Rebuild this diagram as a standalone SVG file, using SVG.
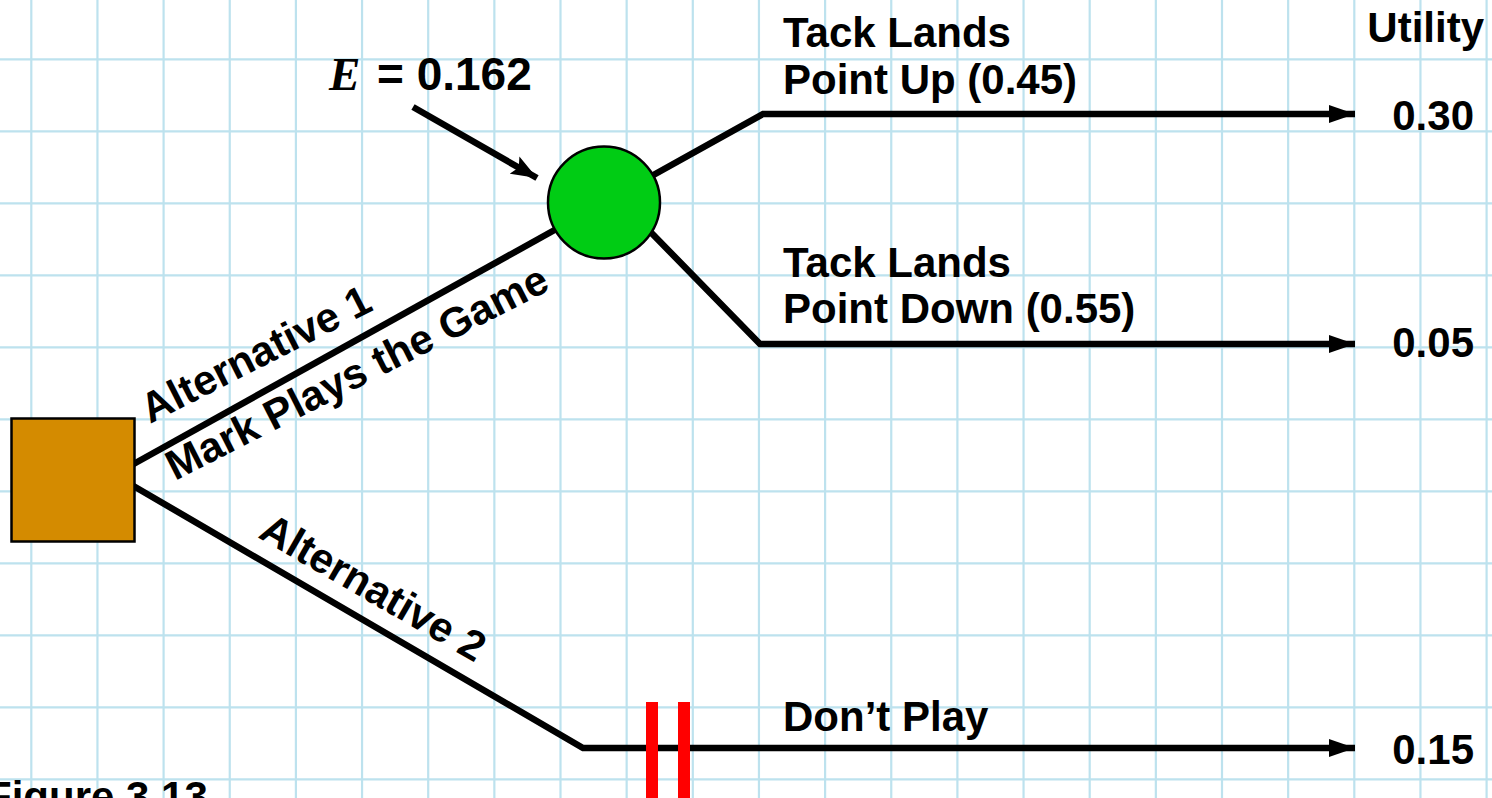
<svg xmlns="http://www.w3.org/2000/svg" width="1492" height="798" viewBox="0 0 1492 798">
<style>
.grid line{stroke:#bde2ee;stroke-width:2.2}
.t{font-family:"Liberation Sans",Arial,sans-serif;font-weight:bold;font-size:42px;fill:#000}
.c{stroke:#000;stroke-width:6.5;fill:none;stroke-linecap:butt;stroke-linejoin:miter}
</style>
<defs>
<marker id="ah" markerUnits="userSpaceOnUse" viewBox="0 0 26 18" refX="26" refY="9" markerWidth="26" markerHeight="18" orient="auto">
<path d="M0,0 L26,9 L0,18 Z" fill="#000"/>
</marker>
<marker id="ah2" markerUnits="userSpaceOnUse" viewBox="0 0 26 20" refX="26" refY="10" markerWidth="26" markerHeight="20" orient="auto">
<path d="M0,0 L26,10 L0,20 L5,10 Z" fill="#000"/>
</marker>
</defs>
<rect width="1492" height="798" fill="#fff"/>
<g class="grid">
<line x1="31.3" y1="0" x2="31.3" y2="798"/>
<line x1="97.45" y1="0" x2="97.45" y2="798"/>
<line x1="163.6" y1="0" x2="163.6" y2="798"/>
<line x1="229.75" y1="0" x2="229.75" y2="798"/>
<line x1="295.9" y1="0" x2="295.9" y2="798"/>
<line x1="362.05" y1="0" x2="362.05" y2="798"/>
<line x1="428.2" y1="0" x2="428.2" y2="798"/>
<line x1="494.35" y1="0" x2="494.35" y2="798"/>
<line x1="560.5" y1="0" x2="560.5" y2="798"/>
<line x1="626.65" y1="0" x2="626.65" y2="798"/>
<line x1="692.8" y1="0" x2="692.8" y2="798"/>
<line x1="758.95" y1="0" x2="758.95" y2="798"/>
<line x1="825.1" y1="0" x2="825.1" y2="798"/>
<line x1="891.25" y1="0" x2="891.25" y2="798"/>
<line x1="957.4" y1="0" x2="957.4" y2="798"/>
<line x1="1023.55" y1="0" x2="1023.55" y2="798"/>
<line x1="1089.7" y1="0" x2="1089.7" y2="798"/>
<line x1="1155.85" y1="0" x2="1155.85" y2="798"/>
<line x1="1222" y1="0" x2="1222" y2="798"/>
<line x1="1288.15" y1="0" x2="1288.15" y2="798"/>
<line x1="1354.3" y1="0" x2="1354.3" y2="798"/>
<line x1="1420.45" y1="0" x2="1420.45" y2="798"/>
<line x1="1486.6" y1="0" x2="1486.6" y2="798"/>
<line x1="0" y1="59.3" x2="1492" y2="59.3"/>
<line x1="0" y1="131.3" x2="1492" y2="131.3"/>
<line x1="0" y1="203.3" x2="1492" y2="203.3"/>
<line x1="0" y1="275.3" x2="1492" y2="275.3"/>
<line x1="0" y1="347.3" x2="1492" y2="347.3"/>
<line x1="0" y1="419.3" x2="1492" y2="419.3"/>
<line x1="0" y1="491.3" x2="1492" y2="491.3"/>
<line x1="0" y1="563.3" x2="1492" y2="563.3"/>
<line x1="0" y1="635.3" x2="1492" y2="635.3"/>
<line x1="0" y1="707.3" x2="1492" y2="707.3"/>
<line x1="0" y1="779.3" x2="1492" y2="779.3"/>
</g>
<g id="connectors">
<path class="c" d="M130,466 L604,202.5"/>
<path class="c" d="M130,484 L583,748 L1355,748" marker-end="url(#ah)"/>
<path class="c" d="M604,202.5 L763,114 L1355,114" marker-end="url(#ah)"/>
<path class="c" d="M630,211 L760,344 L1355,344" marker-end="url(#ah)"/>
<path class="c" d="M413,107 L537,178" marker-end="url(#ah2)"/>
</g>
<g id="decision">
<rect x="11.5" y="418.5" width="123" height="123" fill="#d48b00" stroke="#000" stroke-width="2.5"/>
</g>
<g id="chance">
<circle cx="604" cy="202.5" r="56" fill="#00cc14" stroke="#000" stroke-width="2.5"/>
</g>
<g id="cut">
<rect x="646" y="702" width="12" height="96" fill="#ff0000"/>
<rect x="678" y="702" width="12" height="96" fill="#ff0000"/>
</g>
<g id="labels">
<text x="329" y="90" style="font-family:'Liberation Serif','Times New Roman',serif;font-weight:bold;font-style:italic;font-size:47px">E</text>
<text class="t" x="377" y="90" style="font-size:46px">= 0.162</text>
<text class="t" x="783" y="47">Tack Lands</text>
<text class="t" x="783" y="94">Point Up (0.45)</text>
<text class="t" x="783" y="277">Tack Lands</text>
<text class="t" x="783" y="323">Point Down (0.55)</text>
<text class="t" x="783" y="731">Don’t Play</text>
<text class="t" x="1484" y="42" text-anchor="end">Utility</text>
<text class="t" x="1474" y="130" text-anchor="end">0.30</text>
<text class="t" x="1474" y="357" text-anchor="end">0.05</text>
<text class="t" x="1474" y="764" text-anchor="end">0.15</text>
<text class="t" transform="translate(150,424) rotate(-27)">Alternative 1</text>
<text class="t" transform="translate(175,481) rotate(-27)">Mark Plays the Game</text>
<text class="t" transform="translate(257,537) rotate(30)">Alternative 2</text>
<text class="t" x="-14" y="811">Figure 3.13</text>
</g>
</svg>
